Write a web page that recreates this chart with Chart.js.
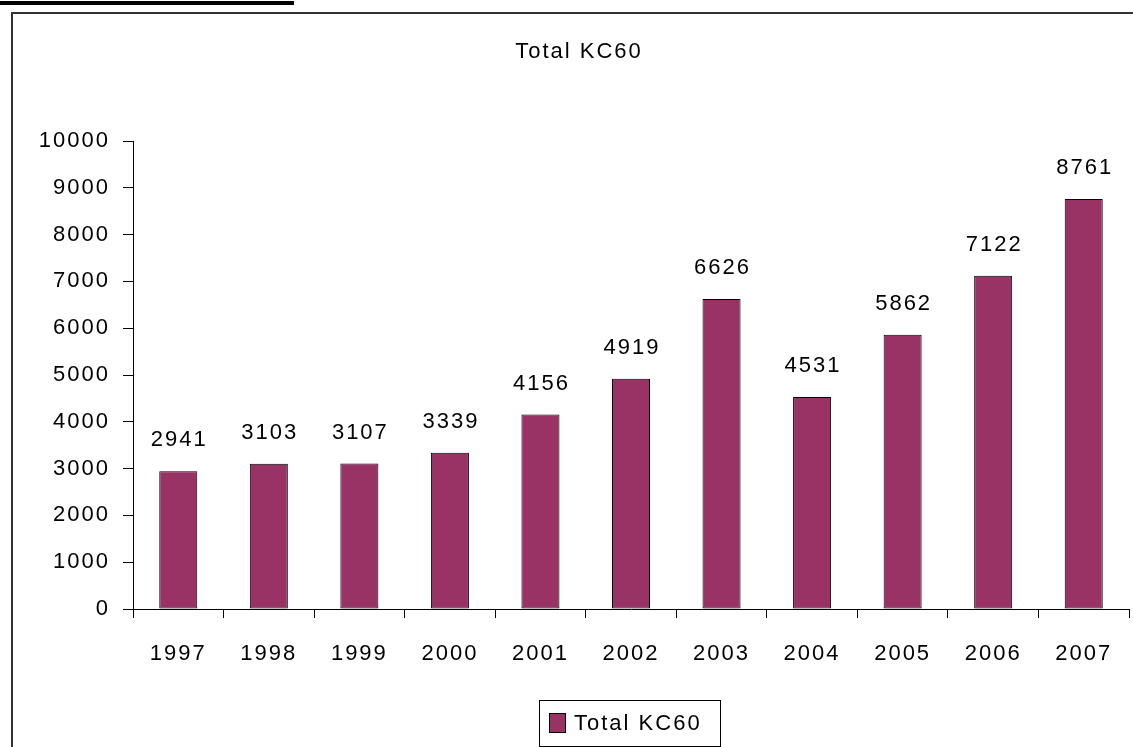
<!DOCTYPE html>
<html>
<head>
<meta charset="utf-8">
<title>Total KC60</title>
<script src="https://cdn.jsdelivr.net/npm/chart.js@4"></script>
<style>
  html, body { margin: 0; padding: 0; background: #fff; }
  canvas { display: block; }
</style>
</head>
<body>
<canvas id="chart" width="1133" height="747"></canvas>
<script>
'use strict';

const years = ['1997', '1998', '1999', '2000', '2001', '2002', '2003', '2004', '2005', '2006', '2007'];
const totalKC60 = [2941, 3103, 3107, 3339, 4156, 4919, 6626, 4531, 5862, 7122, 8761];
const seriesName = 'Total KC60';
const yMin = 0;
const yMax = 10000;
const yStep = 1000;

const barColor = '#993366';
const fontFamily = '"Liberation Sans", Arial, sans-serif';
const fontSize = 22;
const textFont = fontSize + 'px ' + fontFamily;

let canvasElem = document.getElementById('chart');

// page frame, thick rule at the top, and letter spacing for all text
const framePlugin = {
  id: 'frame',
  beforeDraw(chart) {
    let ctx = chart.ctx;
    ctx.save();
    ctx.fillStyle = '#fff';
    ctx.fillRect(0, 0, chart.width, chart.height);
    ctx.fillStyle = '#000';
    ctx.fillRect(0, 1, 294, 4);
    ctx.strokeStyle = '#333';
    ctx.lineWidth = 2;
    ctx.beginPath();
    ctx.moveTo(12, chart.height);
    ctx.lineTo(12, 13);
    ctx.lineTo(chart.width, 13);
    ctx.stroke();
    ctx.restore();
    ctx.letterSpacing = '2px';
  }
};

// value printed above each bar
const valueLabels = {
  id: 'valueLabels',
  afterDatasetsDraw(chart) {
    let ctx = chart.ctx;
    let meta = chart.getDatasetMeta(0);
    let values = chart.data.datasets[0].data;
    ctx.save();
    ctx.font = textFont;
    ctx.fillStyle = '#000';
    ctx.textAlign = 'center';
    ctx.textBaseline = 'middle';
    for (let i = 0; i < meta.data.length; i++) {
      let bar = meta.data[i];
      ctx.fillText(String(values[i]), bar.x + 1, bar.y - 31);
    }
    ctx.restore();
  }
};

// title and boxed legend
const titleAndLegend = {
  id: 'titleAndLegend',
  afterDraw(chart) {
    let ctx = chart.ctx;
    let ds = chart.data.datasets[0];
    ctx.save();
    ctx.font = textFont;
    ctx.fillStyle = '#000';
    ctx.textBaseline = 'middle';
    ctx.textAlign = 'center';
    ctx.fillText(seriesName, 579, 52);

    ctx.strokeStyle = '#000';
    ctx.lineWidth = 1;
    ctx.strokeRect(539.5, 700.5, 181, 46);
    ctx.fillStyle = ds.backgroundColor;
    ctx.fillRect(549.5, 713.5, 16, 19);
    ctx.strokeRect(549.5, 713.5, 16, 19);
    ctx.fillStyle = '#000';
    ctx.textAlign = 'left';
    ctx.fillText(ds.label, 574, 724);
    ctx.restore();
  }
};

function renderChart() {
  new Chart(canvasElem, {
    type: 'bar',
    data: {
      labels: years,
      datasets: [{
        label: seriesName,
        data: totalKC60,
        backgroundColor: barColor,
        borderColor: '#000',
        borderWidth: 1,
        borderSkipped: false,
        barPercentage: 0.42,
        categoryPercentage: 1
      }]
    },
    options: {
      responsive: false,
      animation: false,
      events: [],
      layout: {
        padding: { top: 141, left: 0, right: 4, bottom: 78 }
      },
      plugins: {
        legend: { display: false },
        title: { display: false },
        tooltip: { enabled: false }
      },
      scales: {
        x: {
          afterFit(scale) { scale.height = 60; },
          grid: {
            drawOnChartArea: false,
            drawTicks: true,
            tickLength: 9,
            color: '#000'
          },
          border: { display: true, color: '#000', width: 1 },
          ticks: {
            color: '#000',
            font: { family: fontFamily, size: fontSize },
            padding: 23,
            maxRotation: 0
          }
        },
        y: {
          min: yMin,
          max: yMax,
          afterFit(scale) { scale.width = 133; },
          grid: {
            drawOnChartArea: false,
            drawTicks: true,
            tickLength: 10,
            color: '#000'
          },
          border: { display: true, color: '#000', width: 1 },
          ticks: {
            stepSize: yStep,
            color: '#000',
            font: { family: fontFamily, size: fontSize },
            padding: 13,
            callback: (value) => String(value)
          }
        }
      }
    },
    plugins: [framePlugin, valueLabels, titleAndLegend]
  });
}

renderChart();
</script>
</body>
</html>
